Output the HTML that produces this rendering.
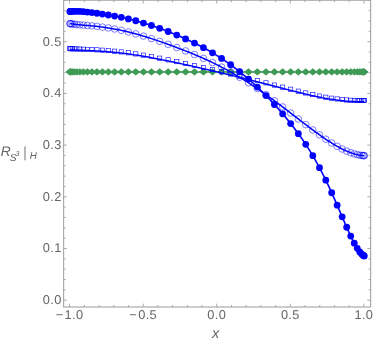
<!DOCTYPE html>
<html><head><meta charset="utf-8"><style>
html,body{margin:0;padding:0;background:#fff;}
body{width:374px;height:341px;overflow:hidden;font-family:"Liberation Sans",sans-serif;}
svg{display:block} text{text-rendering:geometricPrecision}
</style></head><body>
<svg width="374" height="341" viewBox="0 0 374 341" style="will-change:transform;transform:translateZ(0)">
<rect width="374" height="341" fill="#fff"/>
<rect x="63.6" y="0.25" width="307.00" height="306.75" fill="none" stroke="#ababab" stroke-width="1.2"/>
<path d="M69.60,307.0 v-3.3 M69.60,0.25 v3.3 M84.31,307.0 v-2.0 M84.31,0.25 v2.0 M99.03,307.0 v-2.0 M99.03,0.25 v2.0 M113.75,307.0 v-2.0 M113.75,0.25 v2.0 M128.46,307.0 v-2.0 M128.46,0.25 v2.0 M143.18,307.0 v-3.3 M143.18,0.25 v3.3 M157.89,307.0 v-2.0 M157.89,0.25 v2.0 M172.60,307.0 v-2.0 M172.60,0.25 v2.0 M187.32,307.0 v-2.0 M187.32,0.25 v2.0 M202.03,307.0 v-2.0 M202.03,0.25 v2.0 M216.75,307.0 v-3.3 M216.75,0.25 v3.3 M231.47,307.0 v-2.0 M231.47,0.25 v2.0 M246.18,307.0 v-2.0 M246.18,0.25 v2.0 M260.89,307.0 v-2.0 M260.89,0.25 v2.0 M275.61,307.0 v-2.0 M275.61,0.25 v2.0 M290.32,307.0 v-3.3 M290.32,0.25 v3.3 M305.04,307.0 v-2.0 M305.04,0.25 v2.0 M319.75,307.0 v-2.0 M319.75,0.25 v2.0 M334.47,307.0 v-2.0 M334.47,0.25 v2.0 M349.19,307.0 v-2.0 M349.19,0.25 v2.0 M363.90,307.0 v-3.3 M363.90,0.25 v3.3 M63.6,300.20 h3.3 M370.6,300.20 h-3.3 M63.6,289.86 h2.0 M370.6,289.86 h-2.0 M63.6,279.52 h2.0 M370.6,279.52 h-2.0 M63.6,269.18 h2.0 M370.6,269.18 h-2.0 M63.6,258.84 h2.0 M370.6,258.84 h-2.0 M63.6,248.50 h3.3 M370.6,248.50 h-3.3 M63.6,238.16 h2.0 M370.6,238.16 h-2.0 M63.6,227.82 h2.0 M370.6,227.82 h-2.0 M63.6,217.48 h2.0 M370.6,217.48 h-2.0 M63.6,207.14 h2.0 M370.6,207.14 h-2.0 M63.6,196.80 h3.3 M370.6,196.80 h-3.3 M63.6,186.46 h2.0 M370.6,186.46 h-2.0 M63.6,176.12 h2.0 M370.6,176.12 h-2.0 M63.6,165.78 h2.0 M370.6,165.78 h-2.0 M63.6,155.44 h2.0 M370.6,155.44 h-2.0 M63.6,145.10 h3.3 M370.6,145.10 h-3.3 M63.6,134.76 h2.0 M370.6,134.76 h-2.0 M63.6,124.42 h2.0 M370.6,124.42 h-2.0 M63.6,114.08 h2.0 M370.6,114.08 h-2.0 M63.6,103.74 h2.0 M370.6,103.74 h-2.0 M63.6,93.40 h3.3 M370.6,93.40 h-3.3 M63.6,83.06 h2.0 M370.6,83.06 h-2.0 M63.6,72.72 h2.0 M370.6,72.72 h-2.0 M63.6,62.38 h2.0 M370.6,62.38 h-2.0 M63.6,52.04 h2.0 M370.6,52.04 h-2.0 M63.6,41.70 h3.3 M370.6,41.70 h-3.3 M63.6,31.36 h2.0 M370.6,31.36 h-2.0 M63.6,21.02 h2.0 M370.6,21.02 h-2.0 M63.6,10.68 h2.0 M370.6,10.68 h-2.0 M63.6,0.34 h2.0 M370.6,0.34 h-2.0" stroke="#a2a2a2" stroke-width="0.9" fill="none"/>
<path d="M69.90,71.9 L364.20,71.9" stroke="#3f9a56" stroke-width="1.5" fill="none"/>
<g fill="#3f9a56"><path d="M65.50,71.9 L69.90,68.2 L74.30,71.9 L69.90,75.60000000000001Z"/><path d="M65.78,71.9 L70.18,68.2 L74.58,71.9 L70.18,75.60000000000001Z"/><path d="M66.62,71.9 L71.02,68.2 L75.42,71.9 L71.02,75.60000000000001Z"/><path d="M68.01,71.9 L72.41,68.2 L76.81,71.9 L72.41,75.60000000000001Z"/><path d="M69.94,71.9 L74.34,68.2 L78.74,71.9 L74.34,75.60000000000001Z"/><path d="M72.42,71.9 L76.82,68.2 L81.22,71.9 L76.82,75.60000000000001Z"/><path d="M75.44,71.9 L79.84,68.2 L84.24,71.9 L79.84,75.60000000000001Z"/><path d="M78.97,71.9 L83.37,68.2 L87.77,71.9 L83.37,75.60000000000001Z"/><path d="M83.01,71.9 L87.41,68.2 L91.81,71.9 L87.41,75.60000000000001Z"/><path d="M87.54,71.9 L91.94,68.2 L96.34,71.9 L91.94,75.60000000000001Z"/><path d="M92.55,71.9 L96.95,68.2 L101.35,71.9 L96.95,75.60000000000001Z"/><path d="M98.01,71.9 L102.41,68.2 L106.81,71.9 L102.41,75.60000000000001Z"/><path d="M103.90,71.9 L108.30,68.2 L112.70,71.9 L108.30,75.60000000000001Z"/><path d="M110.21,71.9 L114.61,68.2 L119.01,71.9 L114.61,75.60000000000001Z"/><path d="M116.91,71.9 L121.31,68.2 L125.71,71.9 L121.31,75.60000000000001Z"/><path d="M123.97,71.9 L128.37,68.2 L132.77,71.9 L128.37,75.60000000000001Z"/><path d="M131.37,71.9 L135.77,68.2 L140.17,71.9 L135.77,75.60000000000001Z"/><path d="M139.08,71.9 L143.48,68.2 L147.88,71.9 L143.48,75.60000000000001Z"/><path d="M147.06,71.9 L151.46,68.2 L155.86,71.9 L151.46,75.60000000000001Z"/><path d="M155.29,71.9 L159.69,68.2 L164.09,71.9 L159.69,75.60000000000001Z"/><path d="M163.74,71.9 L168.14,68.2 L172.54,71.9 L168.14,75.60000000000001Z"/><path d="M172.38,71.9 L176.78,68.2 L181.18,71.9 L176.78,75.60000000000001Z"/><path d="M181.17,71.9 L185.57,68.2 L189.97,71.9 L185.57,75.60000000000001Z"/><path d="M190.08,71.9 L194.48,68.2 L198.88,71.9 L194.48,75.60000000000001Z"/><path d="M199.07,71.9 L203.47,68.2 L207.87,71.9 L203.47,75.60000000000001Z"/><path d="M208.12,71.9 L212.52,68.2 L216.92,71.9 L212.52,75.60000000000001Z"/><path d="M217.18,71.9 L221.58,68.2 L225.98,71.9 L221.58,75.60000000000001Z"/><path d="M226.23,71.9 L230.63,68.2 L235.03,71.9 L230.63,75.60000000000001Z"/><path d="M235.22,71.9 L239.62,68.2 L244.02,71.9 L239.62,75.60000000000001Z"/><path d="M244.13,71.9 L248.53,68.2 L252.93,71.9 L248.53,75.60000000000001Z"/><path d="M252.92,71.9 L257.32,68.2 L261.72,71.9 L257.32,75.60000000000001Z"/><path d="M261.56,71.9 L265.96,68.2 L270.36,71.9 L265.96,75.60000000000001Z"/><path d="M270.01,71.9 L274.41,68.2 L278.81,71.9 L274.41,75.60000000000001Z"/><path d="M278.24,71.9 L282.64,68.2 L287.04,71.9 L282.64,75.60000000000001Z"/><path d="M286.23,71.9 L290.63,68.2 L295.03,71.9 L290.63,75.60000000000001Z"/><path d="M293.93,71.9 L298.33,68.2 L302.73,71.9 L298.33,75.60000000000001Z"/><path d="M301.33,71.9 L305.73,68.2 L310.13,71.9 L305.73,75.60000000000001Z"/><path d="M308.39,71.9 L312.79,68.2 L317.19,71.9 L312.79,75.60000000000001Z"/><path d="M315.09,71.9 L319.49,68.2 L323.89,71.9 L319.49,75.60000000000001Z"/><path d="M321.40,71.9 L325.80,68.2 L330.20,71.9 L325.80,75.60000000000001Z"/><path d="M327.29,71.9 L331.69,68.2 L336.09,71.9 L331.69,75.60000000000001Z"/><path d="M332.75,71.9 L337.15,68.2 L341.55,71.9 L337.15,75.60000000000001Z"/><path d="M337.76,71.9 L342.16,68.2 L346.56,71.9 L342.16,75.60000000000001Z"/><path d="M342.29,71.9 L346.69,68.2 L351.09,71.9 L346.69,75.60000000000001Z"/><path d="M346.33,71.9 L350.73,68.2 L355.13,71.9 L350.73,75.60000000000001Z"/><path d="M349.86,71.9 L354.26,68.2 L358.66,71.9 L354.26,75.60000000000001Z"/><path d="M352.88,71.9 L357.28,68.2 L361.68,71.9 L357.28,75.60000000000001Z"/><path d="M355.36,71.9 L359.76,68.2 L364.16,71.9 L359.76,75.60000000000001Z"/><path d="M357.29,71.9 L361.69,68.2 L366.09,71.9 L361.69,75.60000000000001Z"/><path d="M358.68,71.9 L363.08,68.2 L367.48,71.9 L363.08,75.60000000000001Z"/><path d="M359.52,71.9 L363.92,68.2 L368.32,71.9 L363.92,75.60000000000001Z"/><path d="M359.80,71.9 L364.20,68.2 L368.60,71.9 L364.20,75.60000000000001Z"/></g>
<path d="M69.90,49.80 L71.37,49.88 L72.84,49.95 L74.31,50.02 L75.79,50.08 L77.26,50.14 L78.73,50.20 L80.20,50.26 L81.67,50.32 L83.14,50.37 L84.62,50.43 L86.09,50.49 L87.56,50.55 L89.03,50.61 L90.50,50.67 L91.97,50.74 L93.44,50.81 L94.92,50.89 L96.39,50.96 L97.86,51.05 L99.33,51.13 L100.80,51.22 L102.27,51.32 L103.74,51.42 L105.22,51.53 L106.69,51.64 L108.16,51.76 L109.63,51.88 L111.10,52.01 L112.57,52.15 L114.05,52.29 L115.52,52.43 L116.99,52.59 L118.46,52.74 L119.93,52.91 L121.40,53.08 L122.87,53.26 L124.35,53.44 L125.82,53.62 L127.29,53.82 L128.76,54.02 L130.23,54.22 L131.70,54.43 L133.17,54.65 L134.65,54.87 L136.12,55.09 L137.59,55.32 L139.06,55.56 L140.53,55.80 L142.00,56.05 L143.48,56.30 L144.95,56.55 L146.42,56.81 L147.89,57.07 L149.36,57.34 L150.83,57.61 L152.30,57.89 L153.78,58.16 L155.25,58.45 L156.72,58.73 L158.19,59.02 L159.66,59.30 L161.13,59.59 L162.60,59.88 L164.08,60.17 L165.55,60.46 L167.02,60.76 L168.49,61.06 L169.96,61.36 L171.43,61.67 L172.91,61.97 L174.38,62.28 L175.85,62.59 L177.32,62.91 L178.79,63.22 L180.26,63.54 L181.73,63.86 L183.21,64.18 L184.68,64.50 L186.15,64.82 L187.62,65.15 L189.09,65.47 L190.56,65.80 L192.03,66.13 L193.51,66.46 L194.98,66.79 L196.45,67.12 L197.92,67.46 L199.39,67.79 L200.86,68.13 L202.34,68.46 L203.81,68.80 L205.28,69.14 L206.75,69.48 L208.22,69.82 L209.69,70.17 L211.16,70.51 L212.64,70.85 L214.11,71.20 L215.58,71.54 L217.05,71.89 L218.52,72.24 L219.99,72.59 L221.46,72.94 L222.94,73.29 L224.41,73.64 L225.88,74.00 L227.35,74.35 L228.82,74.71 L230.29,75.06 L231.77,75.42 L233.24,75.78 L234.71,76.14 L236.18,76.50 L237.65,76.86 L239.12,77.22 L240.59,77.58 L242.07,77.95 L243.54,78.31 L245.01,78.68 L246.48,79.05 L247.95,79.42 L249.42,79.79 L250.89,80.16 L252.37,80.53 L253.84,80.90 L255.31,81.28 L256.78,81.65 L258.25,82.03 L259.72,82.40 L261.20,82.78 L262.67,83.16 L264.14,83.53 L265.61,83.91 L267.08,84.29 L268.55,84.67 L270.02,85.05 L271.50,85.43 L272.97,85.81 L274.44,86.20 L275.91,86.58 L277.38,86.96 L278.85,87.34 L280.32,87.72 L281.80,88.10 L283.27,88.48 L284.74,88.86 L286.21,89.24 L287.68,89.62 L289.15,89.99 L290.62,90.37 L292.10,90.74 L293.57,91.11 L295.04,91.49 L296.51,91.85 L297.98,92.22 L299.45,92.59 L300.93,92.95 L302.40,93.31 L303.87,93.66 L305.34,94.01 L306.81,94.36 L308.28,94.71 L309.75,95.05 L311.23,95.39 L312.70,95.72 L314.17,96.05 L315.64,96.37 L317.11,96.69 L318.58,97.01 L320.06,97.31 L321.53,97.59 L323.00,97.87 L324.47,98.14 L325.94,98.40 L327.41,98.65 L328.88,98.90 L330.36,99.13 L331.83,99.36 L333.30,99.58 L334.77,99.80 L336.24,100.00 L337.71,100.19 L339.18,100.38 L340.66,100.55 L342.13,100.71 L343.60,100.87 L345.07,101.01 L346.54,101.14 L348.01,101.25 L349.49,101.36 L350.96,101.45 L352.43,101.53 L353.90,101.60 L355.37,101.66 L356.84,101.70 L358.31,101.73 L359.79,101.74 L361.26,101.74 L362.73,101.72 L364.20,101.69" stroke="#0000ff" stroke-width="1.5" fill="none"/>
<g fill="none" stroke="#0000ff" stroke-width="0.6"><rect x="67.78" y="46.53" width="4.24" height="4.24"/><rect x="68.06" y="46.54" width="4.24" height="4.24"/><rect x="68.90" y="46.59" width="4.24" height="4.24"/><rect x="70.29" y="46.66" width="4.24" height="4.24"/><rect x="72.22" y="46.75" width="4.24" height="4.24"/><rect x="74.70" y="46.86" width="4.24" height="4.24"/><rect x="77.72" y="46.98" width="4.24" height="4.24"/><rect x="81.25" y="47.11" width="4.24" height="4.24"/><rect x="85.29" y="47.27" width="4.24" height="4.24"/><rect x="89.82" y="47.47" width="4.24" height="4.24"/><rect x="94.83" y="47.72" width="4.24" height="4.24"/><rect x="100.29" y="48.06" width="4.24" height="4.24"/><rect x="106.18" y="48.50" width="4.24" height="4.24"/><rect x="112.49" y="49.07" width="4.24" height="4.24"/><rect x="119.19" y="49.80" width="4.24" height="4.24"/><rect x="126.25" y="50.69" width="4.24" height="4.24"/><rect x="133.65" y="51.77" width="4.24" height="4.24"/><rect x="141.36" y="53.03" width="4.24" height="4.24"/><rect x="149.34" y="54.46" width="4.24" height="4.24"/><rect x="157.57" y="56.04" width="4.24" height="4.24"/><rect x="166.02" y="57.72" width="4.24" height="4.24"/><rect x="174.66" y="59.52" width="4.24" height="4.24"/><rect x="183.45" y="61.42" width="4.24" height="4.24"/><rect x="192.36" y="63.41" width="4.24" height="4.24"/><rect x="201.35" y="65.46" width="4.24" height="4.24"/><rect x="210.40" y="67.56" width="4.24" height="4.24"/><rect x="219.46" y="69.70" width="4.24" height="4.24"/><rect x="228.51" y="71.87" width="4.24" height="4.24"/><rect x="237.50" y="74.07" width="4.24" height="4.24"/><rect x="246.41" y="76.29" width="4.24" height="4.24"/><rect x="255.20" y="78.52" width="4.24" height="4.24"/><rect x="263.84" y="80.73" width="4.24" height="4.24"/><rect x="272.29" y="82.92" width="4.24" height="4.24"/><rect x="280.52" y="85.05" width="4.24" height="4.24"/><rect x="288.51" y="87.10" width="4.24" height="4.24"/><rect x="296.21" y="89.04" width="4.24" height="4.24"/><rect x="303.61" y="90.84" width="4.24" height="4.24"/><rect x="310.67" y="92.47" width="4.24" height="4.24"/><rect x="317.37" y="93.92" width="4.24" height="4.24"/><rect x="323.68" y="95.10" width="4.24" height="4.24"/><rect x="329.57" y="96.07" width="4.24" height="4.24"/><rect x="335.03" y="96.85" width="4.24" height="4.24"/><rect x="340.04" y="97.45" width="4.24" height="4.24"/><rect x="344.57" y="97.88" width="4.24" height="4.24"/><rect x="348.61" y="98.17" width="4.24" height="4.24"/><rect x="352.14" y="98.35" width="4.24" height="4.24"/><rect x="355.16" y="98.44" width="4.24" height="4.24"/><rect x="357.64" y="98.47" width="4.24" height="4.24"/><rect x="359.57" y="98.47" width="4.24" height="4.24"/><rect x="360.96" y="98.45" width="4.24" height="4.24"/><rect x="361.80" y="98.43" width="4.24" height="4.24"/><rect x="362.08" y="98.42" width="4.24" height="4.24"/></g>
<path d="M69.90,23.62 L71.37,23.85 L72.84,24.06 L74.31,24.25 L75.79,24.42 L77.26,24.58 L78.73,24.73 L80.20,24.87 L81.67,25.01 L83.14,25.13 L84.62,25.26 L86.09,25.38 L87.56,25.50 L89.03,25.62 L90.50,25.75 L91.97,25.88 L93.44,26.03 L94.92,26.19 L96.39,26.35 L97.86,26.52 L99.33,26.69 L100.80,26.88 L102.27,27.07 L103.74,27.27 L105.22,27.47 L106.69,27.69 L108.16,27.92 L109.63,28.15 L111.10,28.39 L112.57,28.65 L114.05,28.91 L115.52,29.18 L116.99,29.46 L118.46,29.75 L119.93,30.05 L121.40,30.36 L122.87,30.67 L124.35,31.00 L125.82,31.33 L127.29,31.67 L128.76,32.02 L130.23,32.40 L131.70,32.78 L133.17,33.17 L134.65,33.57 L136.12,33.98 L137.59,34.39 L139.06,34.81 L140.53,35.24 L142.00,35.67 L143.48,36.11 L144.95,36.56 L146.42,37.01 L147.89,37.46 L149.36,37.93 L150.83,38.39 L152.30,38.87 L153.78,39.36 L155.25,39.84 L156.72,40.34 L158.19,40.84 L159.66,41.34 L161.13,41.85 L162.60,42.36 L164.08,42.88 L165.55,43.40 L167.02,43.93 L168.49,44.46 L169.96,45.00 L171.43,45.54 L172.91,46.09 L174.38,46.64 L175.85,47.20 L177.32,47.76 L178.79,48.33 L180.26,48.91 L181.73,49.46 L183.21,50.02 L184.68,50.59 L186.15,51.16 L187.62,51.74 L189.09,52.32 L190.56,52.91 L192.03,53.51 L193.51,54.11 L194.98,54.72 L196.45,55.34 L197.92,55.96 L199.39,56.59 L200.86,57.23 L202.34,57.88 L203.81,58.53 L205.28,59.20 L206.75,59.87 L208.22,60.55 L209.69,61.23 L211.16,61.93 L212.64,62.63 L214.11,63.35 L215.58,64.07 L217.05,64.80 L218.52,65.54 L219.99,66.29 L221.46,67.05 L222.94,67.82 L224.41,68.60 L225.88,69.39 L227.35,70.19 L228.82,70.99 L230.29,71.81 L231.77,72.64 L233.24,73.48 L234.71,74.33 L236.18,75.18 L237.65,76.05 L239.12,76.93 L240.59,77.82 L242.07,78.72 L243.54,79.62 L245.01,80.54 L246.48,81.47 L247.95,82.41 L249.42,83.36 L250.89,84.31 L252.37,85.28 L253.84,86.25 L255.31,87.24 L256.78,88.23 L258.25,89.24 L259.72,90.25 L261.20,91.27 L262.67,92.30 L264.14,93.33 L265.61,94.38 L267.08,95.43 L268.55,96.49 L270.02,97.56 L271.50,98.63 L272.97,99.71 L274.44,100.79 L275.91,101.89 L277.38,102.98 L278.85,104.09 L280.32,105.19 L281.80,106.31 L283.27,107.42 L284.74,108.54 L286.21,109.67 L287.68,110.79 L289.15,111.92 L290.62,113.05 L292.10,114.18 L293.57,115.31 L295.04,116.45 L296.51,117.58 L297.98,118.71 L299.45,119.85 L300.93,120.98 L302.40,122.10 L303.87,123.23 L305.34,124.35 L306.81,125.47 L308.28,126.58 L309.75,127.69 L311.23,128.79 L312.70,129.88 L314.17,130.97 L315.64,132.05 L317.11,133.12 L318.58,134.18 L320.06,135.23 L321.53,136.27 L323.00,137.29 L324.47,138.30 L325.94,139.30 L327.41,140.28 L328.88,141.25 L330.36,142.19 L331.83,143.12 L333.30,144.03 L334.77,144.92 L336.24,145.78 L337.71,146.63 L339.18,147.44 L340.66,148.23 L342.13,149.00 L343.60,149.72 L345.07,150.40 L346.54,151.06 L348.01,151.68 L349.49,152.27 L350.96,152.81 L352.43,153.32 L353.90,153.78 L355.37,154.20 L356.84,154.57 L358.31,154.89 L359.79,155.16 L361.26,155.38 L362.73,155.53 L364.20,155.63" stroke="#0000ff" stroke-width="1.5" fill="none"/>
<g fill="none" stroke="#0000ff" stroke-width="0.5"><circle cx="69.90" cy="23.62" r="3.3"/><circle cx="70.18" cy="23.66" r="3.3"/><circle cx="71.02" cy="23.80" r="3.3"/><circle cx="72.41" cy="24.00" r="3.3"/><circle cx="74.34" cy="24.25" r="3.3"/><circle cx="76.82" cy="24.54" r="3.3"/><circle cx="79.84" cy="24.84" r="3.3"/><circle cx="83.37" cy="25.15" r="3.3"/><circle cx="87.41" cy="25.49" r="3.3"/><circle cx="91.94" cy="25.87" r="3.3"/><circle cx="96.95" cy="26.41" r="3.3"/><circle cx="102.41" cy="27.09" r="3.3"/><circle cx="108.30" cy="27.94" r="3.3"/><circle cx="114.61" cy="29.01" r="3.3"/><circle cx="121.31" cy="30.34" r="3.3"/><circle cx="128.37" cy="31.93" r="3.3"/><circle cx="135.77" cy="33.88" r="3.3"/><circle cx="143.48" cy="36.11" r="3.3"/><circle cx="151.46" cy="38.60" r="3.3"/><circle cx="159.69" cy="41.35" r="3.3"/><circle cx="168.14" cy="44.34" r="3.3"/><circle cx="176.78" cy="47.56" r="3.3"/><circle cx="185.57" cy="50.93" r="3.3"/><circle cx="194.48" cy="54.51" r="3.3"/><circle cx="203.47" cy="58.39" r="3.3"/><circle cx="212.52" cy="62.58" r="3.3"/><circle cx="221.58" cy="67.11" r="3.3"/><circle cx="230.63" cy="72.00" r="3.3"/><circle cx="239.62" cy="77.23" r="3.3"/><circle cx="248.53" cy="82.78" r="3.3"/><circle cx="257.32" cy="88.60" r="3.3"/><circle cx="265.96" cy="94.62" r="3.3"/><circle cx="274.41" cy="100.77" r="3.3"/><circle cx="282.64" cy="106.95" r="3.3"/><circle cx="290.63" cy="113.05" r="3.3"/><circle cx="298.33" cy="118.98" r="3.3"/><circle cx="305.73" cy="124.65" r="3.3"/><circle cx="312.79" cy="129.95" r="3.3"/><circle cx="319.49" cy="134.82" r="3.3"/><circle cx="325.80" cy="139.20" r="3.3"/><circle cx="331.69" cy="143.04" r="3.3"/><circle cx="337.15" cy="146.31" r="3.3"/><circle cx="342.16" cy="149.01" r="3.3"/><circle cx="346.69" cy="151.12" r="3.3"/><circle cx="350.73" cy="152.73" r="3.3"/><circle cx="354.26" cy="153.89" r="3.3"/><circle cx="357.28" cy="154.67" r="3.3"/><circle cx="359.76" cy="155.16" r="3.3"/><circle cx="361.69" cy="155.43" r="3.3"/><circle cx="363.08" cy="155.56" r="3.3"/><circle cx="363.92" cy="155.62" r="3.3"/><circle cx="364.20" cy="155.63" r="3.3"/></g>
<path d="M69.90,11.55 L71.37,11.41 L72.84,11.32 L74.31,11.28 L75.79,11.27 L77.26,11.31 L78.73,11.37 L80.20,11.45 L81.67,11.55 L83.14,11.67 L84.62,11.80 L86.09,11.94 L87.56,12.09 L89.03,12.25 L90.50,12.42 L91.97,12.58 L93.44,12.78 L94.92,12.98 L96.39,13.19 L97.86,13.40 L99.33,13.61 L100.80,13.83 L102.27,14.05 L103.74,14.28 L105.22,14.51 L106.69,14.74 L108.16,14.98 L109.63,15.23 L111.10,15.49 L112.57,15.75 L114.05,16.02 L115.52,16.27 L116.99,16.53 L118.46,16.80 L119.93,17.08 L121.40,17.37 L122.87,17.67 L124.35,17.98 L125.82,18.31 L127.29,18.64 L128.76,18.98 L130.23,19.34 L131.70,19.70 L133.17,20.08 L134.65,20.47 L136.12,20.87 L137.59,21.28 L139.06,21.70 L140.53,22.13 L142.00,22.58 L143.48,23.03 L144.95,23.46 L146.42,23.91 L147.89,24.36 L149.36,24.83 L150.83,25.30 L152.30,25.78 L153.78,26.27 L155.25,26.77 L156.72,27.27 L158.19,27.78 L159.66,28.30 L161.13,28.83 L162.60,29.36 L164.08,29.90 L165.55,30.45 L167.02,31.03 L168.49,31.62 L169.96,32.21 L171.43,32.81 L172.91,33.42 L174.38,34.03 L175.85,34.65 L177.32,35.27 L178.79,35.91 L180.26,36.54 L181.73,37.19 L183.21,37.84 L184.68,38.50 L186.15,39.17 L187.62,39.84 L189.09,40.53 L190.56,41.22 L192.03,41.92 L193.51,42.63 L194.98,43.35 L196.45,44.08 L197.92,44.82 L199.39,45.57 L200.86,46.33 L202.34,47.10 L203.81,47.89 L205.28,48.69 L206.75,49.50 L208.22,50.32 L209.69,51.16 L211.16,52.01 L212.64,52.87 L214.11,53.75 L215.58,54.65 L217.05,55.56 L218.52,56.48 L219.99,57.43 L221.46,58.38 L222.94,59.36 L224.41,60.35 L225.88,61.36 L227.35,62.39 L228.82,63.43 L230.29,64.49 L231.77,65.57 L233.24,66.66 L234.71,67.77 L236.18,68.91 L237.65,70.05 L239.12,71.22 L240.59,72.40 L242.07,73.60 L243.54,74.82 L245.01,76.06 L246.48,77.31 L247.95,78.58 L249.42,79.87 L250.89,81.17 L252.37,82.50 L253.84,83.83 L255.31,85.19 L256.78,86.56 L258.25,87.95 L259.72,89.35 L261.20,90.77 L262.67,92.23 L264.14,93.71 L265.61,95.21 L267.08,96.72 L268.55,98.25 L270.02,99.79 L271.50,101.36 L272.97,102.94 L274.44,104.54 L275.91,106.16 L277.38,107.80 L278.85,109.45 L280.32,111.13 L281.80,112.83 L283.27,114.56 L284.74,116.30 L286.21,118.08 L287.68,119.87 L289.15,121.70 L290.62,123.55 L292.10,125.41 L293.57,127.30 L295.04,129.23 L296.51,131.18 L297.98,133.18 L299.45,135.21 L300.93,137.29 L302.40,139.40 L303.87,141.56 L305.34,143.77 L306.81,146.03 L308.28,148.33 L309.75,150.69 L311.23,153.10 L312.70,155.56 L314.17,158.09 L315.64,160.67 L317.11,163.31 L318.58,166.01 L320.06,168.77 L321.53,171.60 L323.00,174.49 L324.47,177.43 L325.94,180.45 L327.41,183.52 L328.88,186.64 L330.36,189.83 L331.83,193.06 L333.30,196.35 L334.77,199.68 L336.24,203.05 L337.71,206.45 L339.18,209.87 L340.66,213.31 L342.13,216.76 L343.60,220.16 L345.07,223.54 L346.54,226.89 L348.01,230.19 L349.49,233.41 L350.96,236.55 L352.43,239.57 L353.90,242.45 L355.37,245.16 L356.84,247.67 L358.31,249.95 L359.79,251.97 L361.26,253.67 L362.73,255.02 L364.20,255.97" stroke="#0000ff" stroke-width="1.6" fill="none"/>
<g fill="#0000ff"><circle cx="69.90" cy="11.55" r="3.4"/><circle cx="70.18" cy="11.52" r="3.4"/><circle cx="71.02" cy="11.43" r="3.4"/><circle cx="72.41" cy="11.34" r="3.4"/><circle cx="74.34" cy="11.28" r="3.4"/><circle cx="76.82" cy="11.29" r="3.4"/><circle cx="79.84" cy="11.43" r="3.4"/><circle cx="83.37" cy="11.69" r="3.4"/><circle cx="87.41" cy="12.08" r="3.4"/><circle cx="91.94" cy="12.58" r="3.4"/><circle cx="96.95" cy="13.27" r="3.4"/><circle cx="102.41" cy="14.07" r="3.4"/><circle cx="108.30" cy="15.01" r="3.4"/><circle cx="114.61" cy="16.12" r="3.4"/><circle cx="121.31" cy="17.35" r="3.4"/><circle cx="128.37" cy="18.89" r="3.4"/><circle cx="135.77" cy="20.77" r="3.4"/><circle cx="143.48" cy="23.03" r="3.4"/><circle cx="151.46" cy="25.50" r="3.4"/><circle cx="159.69" cy="28.31" r="3.4"/><circle cx="168.14" cy="31.48" r="3.4"/><circle cx="176.78" cy="35.04" r="3.4"/><circle cx="185.57" cy="38.91" r="3.4"/><circle cx="194.48" cy="43.10" r="3.4"/><circle cx="203.47" cy="47.71" r="3.4"/><circle cx="212.52" cy="52.80" r="3.4"/><circle cx="221.58" cy="58.46" r="3.4"/><circle cx="230.63" cy="64.73" r="3.4"/><circle cx="239.62" cy="71.62" r="3.4"/><circle cx="248.53" cy="79.09" r="3.4"/><circle cx="257.32" cy="87.07" r="3.4"/><circle cx="265.96" cy="95.56" r="3.4"/><circle cx="274.41" cy="104.50" r="3.4"/><circle cx="282.64" cy="113.82" r="3.4"/><circle cx="290.63" cy="123.55" r="3.4"/><circle cx="298.33" cy="133.66" r="3.4"/><circle cx="305.73" cy="144.36" r="3.4"/><circle cx="312.79" cy="155.72" r="3.4"/><circle cx="319.49" cy="167.70" r="3.4"/><circle cx="325.80" cy="180.14" r="3.4"/><circle cx="331.69" cy="192.76" r="3.4"/><circle cx="337.15" cy="205.15" r="3.4"/><circle cx="342.16" cy="216.83" r="3.4"/><circle cx="346.69" cy="227.23" r="3.4"/><circle cx="350.73" cy="236.07" r="3.4"/><circle cx="354.26" cy="243.13" r="3.4"/><circle cx="357.28" cy="248.37" r="3.4"/><circle cx="359.76" cy="251.93" r="3.4"/><circle cx="361.69" cy="254.11" r="3.4"/><circle cx="363.08" cy="255.29" r="3.4"/><circle cx="363.92" cy="255.82" r="3.4"/><circle cx="364.20" cy="255.97" r="3.4"/></g>
<g font-family="Liberation Sans, sans-serif" font-size="12.8" fill="#646464" letter-spacing="0.35"><text x="61.7" y="304.10" text-anchor="end">0.0</text><text x="61.7" y="252.40" text-anchor="end">0.1</text><text x="61.7" y="200.70" text-anchor="end">0.2</text><text x="61.7" y="149.00" text-anchor="end">0.3</text><text x="61.7" y="97.30" text-anchor="end">0.4</text><text x="61.7" y="45.60" text-anchor="end">0.5</text><text x="69.60" y="319.3" text-anchor="middle">−<tspan dx="1">1.0</tspan></text><text x="143.18" y="319.3" text-anchor="middle">−<tspan dx="1">0.5</tspan></text><text x="216.75" y="319.3" text-anchor="middle">0.0</text><text x="290.32" y="319.3" text-anchor="middle">0.5</text><text x="363.90" y="319.3" text-anchor="middle">1.0</text></g>
<g font-family="Liberation Sans, sans-serif" font-style="italic" fill="#646464"><text x="212" y="337.6" font-size="14.5">x</text><text x="0.8" y="156.2" font-size="13.8">R</text><text x="9.7" y="160.6" font-size="10.2">S</text><text x="15.6" y="156.3" font-size="7">3</text><text x="29.8" y="158.6" font-size="9.8">H</text></g>
<path d="M25,146.4 V160.3" stroke="#646464" stroke-width="0.9"/>
</svg>
</body></html>
